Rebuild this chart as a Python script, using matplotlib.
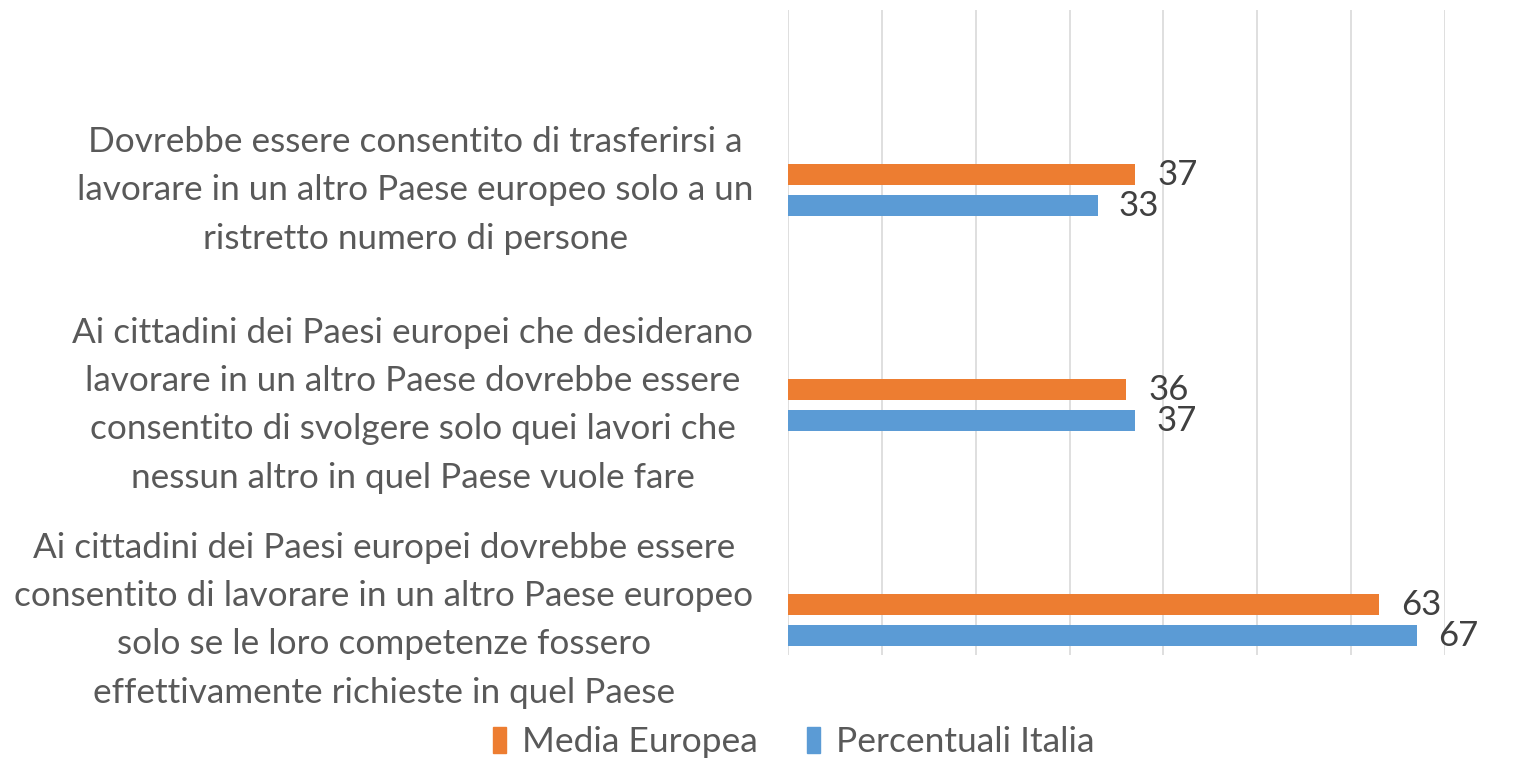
import matplotlib
matplotlib.use("Agg")
import matplotlib.pyplot as plt
from matplotlib.patches import Patch

categories = [
    "Dovrebbe essere consentito di trasferirsi a\nlavorare in un altro Paese europeo solo a un\nristretto numero di persone",
    "Ai cittadini dei Paesi europei che desiderano\nlavorare in un altro Paese dovrebbe essere\nconsentito di svolgere solo quei lavori che\nnessun altro in quel Paese vuole fare",
    "Ai cittadini dei Paesi europei dovrebbe essere\nconsentito di lavorare in un altro Paese europeo\nsolo se le loro competenze fossero\neffettivamente richieste in quel Paese",
]
series_names = ["Media Europea", "Percentuali Italia"]
media_europea = [37, 36, 63]
percentuali_italia = [33, 37, 67]

ORANGE = "#ED7D31"
BLUE = "#5B9BD5"
TXT = "#595959"
FONT = "Lato"

W, H = 1532, 758
fig = plt.figure(figsize=(W / 100, H / 100), dpi=100)
left, right, top, bottom = 788, 1445, 10, 655
ax = fig.add_axes([left / W, 1 - bottom / H, (right - left) / W, (bottom - top) / H])

n = len(categories)
ypos = list(range(n))
off_o, off_b, h = 0.767, 0.911, 0.098
yo = [y + off_o for y in ypos]
yb = [y + off_b for y in ypos]
ax.barh(yo, media_europea, height=h, color=ORANGE, zorder=3)
ax.barh(yb, percentuali_italia, height=h, color=BLUE, zorder=3)

for y, v in zip(yo, media_europea):
    ax.annotate(str(v), (v, y), xytext=(16, 0), textcoords="offset points",
                va="center", ha="left", fontsize=25, color="#404040", family=FONT)
for y, v in zip(yb, percentuali_italia):
    ax.annotate(str(v), (v, y), xytext=(15, 0), textcoords="offset points",
                va="center", ha="left", fontsize=25, color="#404040", family=FONT)

ax.set_xlim(0, 70)
ax.set_ylim(3, 0)
ax.set_xticks(range(0, 71, 10))
ax.set_xticklabels([])
ax.tick_params(axis="both", length=0)
ax.grid(axis="x", color="#D9D9D9", linewidth=1.2, zorder=0)
for s in ax.spines.values():
    s.set_visible(False)
ax.set_yticks([])

centers = [(a + b) / 2 for a, b in zip(yo, yb)]
for c, lab in zip(centers, categories):
    ax.annotate(lab, (0, c), xytext=(-25, 0), textcoords="offset points",
                ha="right", va="center", multialignment="center",
                fontsize=25.3, color=TXT, family=FONT, linespacing=1.62)

handles = [Patch(color=ORANGE), Patch(color=BLUE)]
fig.legend(handles, series_names, loc="center", bbox_to_anchor=(794 / W, 1 - 742 / H),
           ncol=2, frameon=False, prop={"family": FONT, "size": 25.5},
           labelcolor=TXT, handlelength=0.36, handleheight=0.75, columnspacing=1.4,
           handletextpad=0.45)

fig.savefig("out.png", dpi=100)
